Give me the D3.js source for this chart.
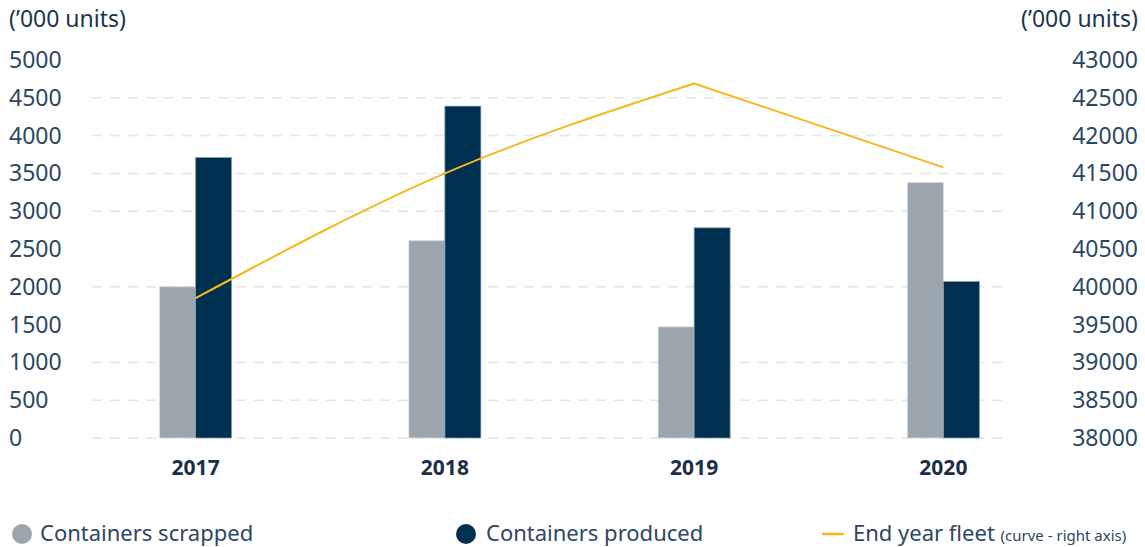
<!DOCTYPE html>
<html>
<head>
<meta charset="utf-8">
<script src="https://cdn.jsdelivr.net/npm/d3@7"></script>
<style>
  body { margin: 0; background: #fff; }
  svg text { font-family: "Noto Sans", "Open Sans", sans-serif; }
</style>
</head>
<body>
<div class="chart-container"></div>
<script>
const years = ["2017", "2018", "2019", "2020"];
const scrapped = [2000, 2610, 1470, 3380];
const produced = [3710, 4390, 2780, 2070];
const fleet = [39850, 41500, 42690, 41580];
const leftTicks = [0, 500, 1000, 1500, 2000, 2500, 3000, 3500, 4000, 4500, 5000];
const rightTicks = [38000, 38500, 39000, 39500, 40000, 40500, 41000, 41500, 42000, 42500, 43000];
const gridValues = [0, 500, 1000, 2000, 3000, 3500, 4000, 4500];

const w = 1145;
const h = 547;

const svg = d3.select(".chart-container")
    .append("svg")
    .attr("width", w)
    .attr("height", h);

const xScale = d3.scaleBand()
    .domain(years)
    .range([71, 1068]);

const yLeft = d3.scaleLinear().domain([0, 5000]).range([438, 60]);
const yRight = d3.scaleLinear().domain([38000, 43000]).range([438, 60]);

const cx = (d) => xScale(d) + xScale.bandwidth() / 2;

// grid
svg.append("g")
    .selectAll("line")
    .data(gridValues)
    .enter()
    .append("line")
    .attr("x1", 92)
    .attr("x2", 1002)
    .attr("y1", d => yLeft(d))
    .attr("y2", d => yLeft(d))
    .attr("stroke", "#e3e4e6")
    .attr("stroke-width", 1.5)
    .attr("stroke-dasharray", "10,8");

// axis labels
const tickColor = "#2c4763";
svg.append("g")
    .selectAll("text")
    .data(leftTicks)
    .enter()
    .append("text")
    .attr("x", 9)
    .attr("y", d => yLeft(d) + 8)
    .attr("fill", tickColor)
    .style("font-size", "23px")
    .text(d => d);

svg.append("g")
    .selectAll("text")
    .data(rightTicks)
    .enter()
    .append("text")
    .attr("x", 1138)
    .attr("y", d => yRight(d) + 8)
    .attr("text-anchor", "end")
    .attr("fill", tickColor)
    .style("font-size", "23px")
    .text(d => d);

svg.append("text")
    .attr("x", 9).attr("y", 27)
    .attr("fill", "#1b3550")
    .style("font-size", "23px")
    .text("(\u2019000 units)");

svg.append("text")
    .attr("x", 1138).attr("y", 27)
    .attr("text-anchor", "end")
    .attr("fill", "#1b3550")
    .style("font-size", "23px")
    .text("(\u2019000 units)");

// x labels
svg.append("g")
    .selectAll("text")
    .data(years)
    .enter()
    .append("text")
    .attr("x", d => cx(d))
    .attr("y", 475)
    .attr("text-anchor", "middle")
    .attr("fill", "#1c2f47")
    .style("font-size", "21px")
    .style("font-weight", "bold")
    .text(d => d);

// bars
const barW = 36;
svg.append("g")
    .selectAll("rect")
    .data(years)
    .enter()
    .append("rect")
    .attr("x", d => cx(d) - barW)
    .attr("y", (d, i) => yLeft(scrapped[i]))
    .attr("width", barW)
    .attr("height", (d, i) => yLeft(0) - yLeft(scrapped[i]))
    .attr("fill", "#9aa5ae")
    .attr("stroke", "#d4dae0")
    .attr("stroke-width", 0.8);

svg.append("g")
    .selectAll("rect")
    .data(years)
    .enter()
    .append("rect")
    .attr("x", d => cx(d))
    .attr("y", (d, i) => yLeft(produced[i]))
    .attr("width", barW)
    .attr("height", (d, i) => yLeft(0) - yLeft(produced[i]))
    .attr("fill", "#00304f")
    .attr("stroke", "#8a9cb0")
    .attr("stroke-width", 0.8);

// fleet line: smooth rise to the peak, straight fall after it
const pts = fleet.map((v, i) => [cx(years[i]), yRight(v)]);
const rise = d3.line().curve(d3.curveMonotoneX)(pts.slice(0, 3));
const fall = d3.line()(pts.slice(2));

svg.append("path")
    .attr("d", rise + fall.replace(/^M/, "L"))
    .attr("fill", "none")
    .attr("stroke", "#f5b91e")
    .attr("stroke-width", 2)
    .attr("stroke-linejoin", "round");

// legend
const legendY = 534;
svg.append("circle").attr("cx", 22).attr("cy", legendY).attr("r", 10).attr("fill", "#9aa5ae");
svg.append("text").attr("x", 40).attr("y", legendY + 7)
    .attr("fill", "#2c4763").style("font-size", "22px").text("Containers scrapped");

svg.append("circle").attr("cx", 466).attr("cy", legendY).attr("r", 10).attr("fill", "#00304f");
svg.append("text").attr("x", 486).attr("y", legendY + 7)
    .attr("fill", "#2c4763").style("font-size", "22px").text("Containers produced");

svg.append("line").attr("x1", 822).attr("x2", 844).attr("y1", legendY).attr("y2", legendY)
    .attr("stroke", "#f5b91e").attr("stroke-width", 2.5);
const lt = svg.append("text").attr("x", 853).attr("y", legendY + 7)
    .attr("fill", "#2c4763").style("font-size", "22px");
lt.append("tspan").text("End year fleet ");
lt.append("tspan").style("font-size", "15px").text("(curve - right axis)");
</script>
</body>
</html>
